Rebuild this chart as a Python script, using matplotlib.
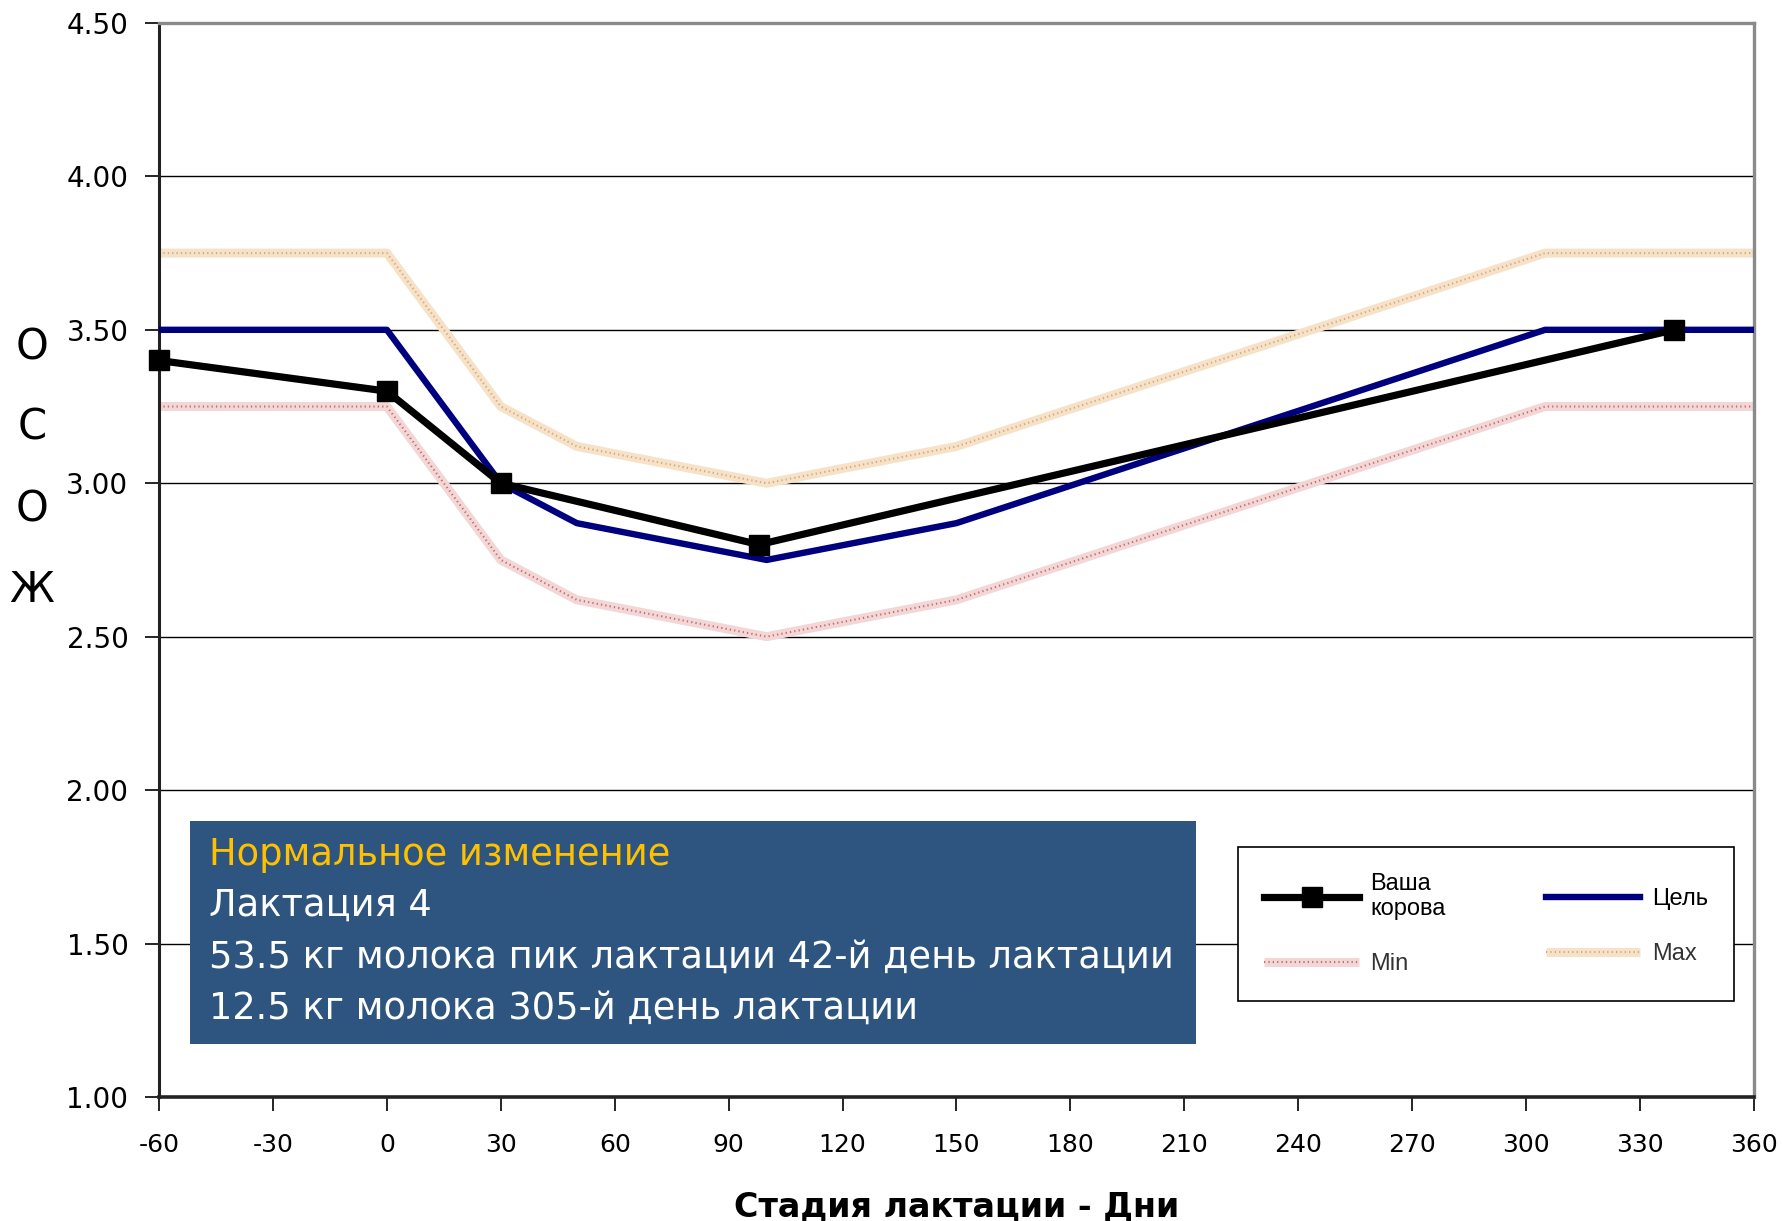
import matplotlib
matplotlib.use("Agg")
import matplotlib.pyplot as plt
from matplotlib.patches import Rectangle

plt.rcParams["axes.unicode_minus"] = False

# Milk fat/protein ratio over lactation stage
days_cow = [-60, 0, 30, 98, 339]
cow = [3.40, 3.30, 3.00, 2.80, 3.50]

days_ref = [-60, 0, 30, 50, 100, 150, 305, 360]
target = [3.50, 3.50, 3.00, 2.87, 2.75, 2.87, 3.50, 3.50]
low = [3.25, 3.25, 2.75, 2.62, 2.50, 2.62, 3.25, 3.25]
high = [3.75, 3.75, 3.25, 3.12, 3.00, 3.12, 3.75, 3.75]

x_ticks = list(range(-60, 361, 30))
y_ticks = [1.00, 1.50, 2.00, 2.50, 3.00, 3.50, 4.00, 4.50]

info_title = "Нормальное изменение"
info_lines = ["Лактация 4",
              "53.5 кг молока пик лактации 42-й день лактации",
              "12.5 кг молока 305-й день лактации"]

NAVY = "#00007f"
MIN_BASE, MIN_DOT = "#f3d6d6", "#c46a6a"
MAX_BASE, MAX_DOT = "#f6e2c8", "#d9a774"

fig = plt.figure(figsize=(17.83, 12.21), dpi=100)
ax = fig.add_axes([0.0892, 0.1016, 0.8945, 0.8796])


def textured(x, y, base, dot, **kw):
    # wide pale stroke with a fine dotted overlay
    a, = ax.plot(x, y, color=base, lw=6.5, solid_capstyle="butt", zorder=2, **kw)
    b, = ax.plot(x, y, color=dot, lw=1.5, linestyle=(0, (0.6, 1.5)), zorder=2.1)
    return a, b


h_max = textured(days_ref, high, MAX_BASE, MAX_DOT)
h_min = textured(days_ref, low, MIN_BASE, MIN_DOT)
h_tgt, = ax.plot(days_ref, target, color=NAVY, lw=4.6, zorder=3)
h_cow, = ax.plot(days_cow, cow, color="black", lw=5.2, marker="s",
                 markersize=14, zorder=4, clip_on=False)

ax.set_xlim(-60, 360)
ax.set_ylim(1.0, 4.5)
ax.set_xticks(x_ticks)
ax.set_yticks(y_ticks)
ax.set_yticklabels([f"{v:.2f}" for v in y_ticks])
ax.tick_params(axis="y", labelsize=20, length=10, width=1.2, pad=12,
               direction="out")
ax.tick_params(axis="x", labelsize=18, length=10, width=1.2, pad=16,
               direction="out")
for lab in ax.get_xticklabels() + ax.get_yticklabels():
    lab.set_fontfamily("DejaVu Sans")

ax.grid(axis="y", color="black", lw=1.0, zorder=1)
ax.set_axisbelow(True)
ax.spines["left"].set_color("#222222")
ax.spines["left"].set_linewidth(2.2)
ax.spines["bottom"].set_color("#222222")
ax.spines["bottom"].set_linewidth(2.6)
for s in ("top", "right"):
    ax.spines[s].set_color("#8a8a8a")
    ax.spines[s].set_linewidth(2.4)

ax.set_xlabel("Стадия лактации - Дни", fontsize=24, fontweight="bold",
              family="DejaVu Sans", labelpad=24)

# stacked vertical axis title
for i, ch in enumerate("ОСОЖ"):
    fig.text(0.018, 1 - (347 + i * 81) / 1221, ch, fontsize=30,
             family="DejaVu Sans", ha="center", va="center")

# info box
ax.add_patch(Rectangle((0.0194, 0.0493), 0.6307, 0.2076, transform=ax.transAxes,
                       facecolor="#2d5580", edgecolor="none", zorder=5))
ax.text(0.0313, 0.226, info_title, transform=ax.transAxes, fontsize=26.5,
        color="#ffc000", family="DejaVu Sans", va="center", zorder=6)
for i, line in enumerate(info_lines):
    ax.text(0.0313, 0.1785 - i * 0.048, line, transform=ax.transAxes,
            fontsize=26.5, color="white", family="DejaVu Sans", va="center",
            zorder=6)

leg = ax.legend([h_cow, h_min, h_tgt, h_max],
                ["Ваша\nкорова", "Min", "Цель", "Max"],
                ncol=2, loc="upper left",
                bbox_to_anchor=(0.6767, 0.0894, 0.3107, 0.1434),
                mode="expand", borderaxespad=0, fancybox=False, framealpha=1,
                edgecolor="black", prop={"family": "Liberation Sans", "size": 17},
                handlelength=4.0, numpoints=1, borderpad=1.1,
                labelspacing=1.4, handletextpad=0.5, columnspacing=1.0)
leg.get_frame().set_linewidth(1.2)
leg.set_zorder(6)
for t in leg.get_texts()[1::2]:
    t.set_color("#333333")

fig.savefig("out.png", dpi=100)
